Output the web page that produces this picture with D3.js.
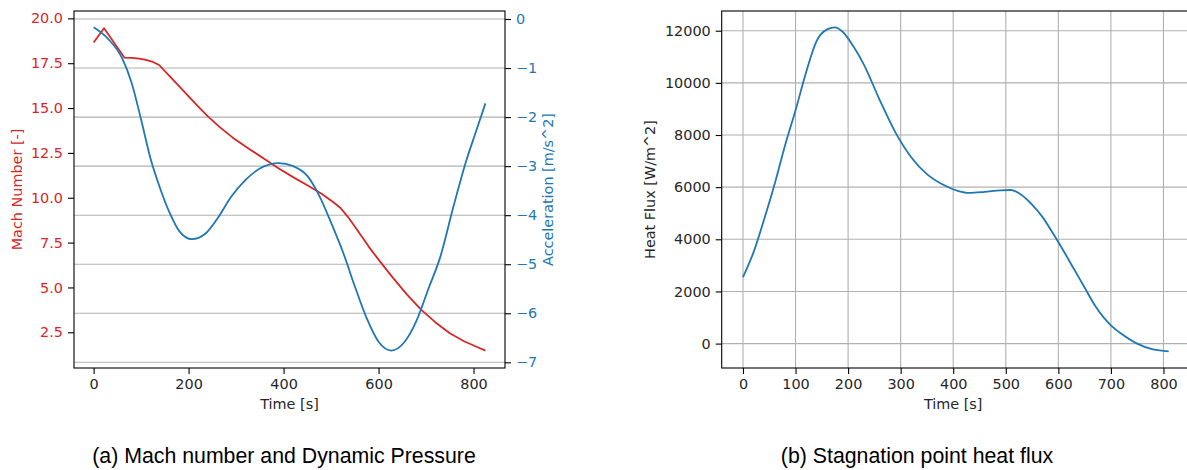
<!DOCTYPE html>
<html>
<head>
<meta charset="utf-8">
<script src="https://cdn.jsdelivr.net/npm/d3@7"></script>
<style>
  body { margin: 0; background: #fff; }
  svg { display: block; }
  text { font-family: "DejaVu Sans", sans-serif; }
</style>
</head>
<body>
<svg id="chart" width="1187" height="470"></svg>
<script>
// DATA
// (a) Mach number + acceleration vs time
const mach_time = [0, 22, 65, 80, 96, 110, 125, 138, 160, 181, 200, 220, 240, 265, 293, 330, 363, 390, 420, 450, 480, 505, 520, 535, 550, 565, 580, 600, 630, 660, 690, 720, 750, 780, 810, 825];
const mach_values = [18.65, 19.45, 17.81, 17.80, 17.75, 17.68, 17.57, 17.40, 16.78, 16.19, 15.65, 15.1, 14.55, 13.95, 13.35, 12.68, 12.1, 11.63, 11.15, 10.7, 10.22, 9.75, 9.43, 8.95, 8.4, 7.83, 7.25, 6.55, 5.55, 4.6, 3.75, 3.05, 2.45, 2.0, 1.65, 1.48];

const acc_time = [0, 30, 60, 80, 100, 120, 140, 160, 180, 207, 235, 260, 290, 320, 350, 390, 420, 450, 475, 500, 525, 550, 575, 600, 627, 655, 680, 705, 730, 757, 785, 805, 825];
const acc_values = [-0.17, -0.40, -0.80, -1.30, -2.05, -2.85, -3.45, -3.95, -4.32, -4.49, -4.38, -4.08, -3.62, -3.28, -3.05, -2.94, -3.00, -3.20, -3.60, -4.15, -4.75, -5.45, -6.10, -6.58, -6.76, -6.58, -6.15, -5.50, -4.85, -3.85, -2.88, -2.30, -1.72];

// (b) stagnation point heat flux vs time
const flux_time = [0, 20, 40, 60, 80, 100, 120, 140, 160, 175, 190, 210, 230, 260, 290, 320, 350, 380, 410, 430, 460, 490, 510, 530, 550, 570, 590, 610, 630, 650, 670, 700, 720, 750, 780, 810];
const flux_values = [2550, 3500, 4750, 6100, 7600, 8950, 10400, 11600, 12050, 12130, 11950, 11400, 10700, 9350, 8100, 7150, 6500, 6100, 5850, 5780, 5820, 5880, 5890, 5700, 5330, 4850, 4220, 3550, 2850, 2150, 1450, 700, 380, 0, -225, -295];

// tick labels
const mach_ticks = [2.5, 5.0, 7.5, 10.0, 12.5, 15.0, 17.5, 20.0];
const acc_ticks = [0, -1, -2, -3, -4, -5, -6, -7];
const time_ticks_a = [0, 200, 400, 600, 800];
const time_ticks_b = [0, 100, 200, 300, 400, 500, 600, 700, 800];
const flux_ticks = [0, 2000, 4000, 6000, 8000, 10000, 12000];

const captions = ["(a) Mach number and Dynamic Pressure", "(b) Stagnation point heat flux"];

const RED = "#d62728", BLUE = "#1f77b4", GRID = "#b0b0b0", TXT = "#262626";
const FS = 14.4;

const svg = d3.select("#chart");

function zip(xs, ys) { return xs.map((x, i) => ({t: x, v: ys[i]})); }

function styleAxis(g, color) {
  g.select(".domain").remove();
  g.selectAll(".tick line").attr("stroke", "#000").attr("stroke-width", 1.1);
  g.selectAll(".tick text").attr("fill", color).style("font-size", FS + "px")
    .style("font-family", "DejaVu Sans");
}

// ---------- panel (a) ----------
const A = {left: 74, right: 505, top: 11, bottom: 368};
const xa = d3.scaleLinear().domain([-41.25, 866.25]).range([A.left, A.right]);
const yMach = d3.scaleLinear().domain([0.51, 20.41]).range([A.bottom, A.top]);
const yAcc = d3.scaleLinear().domain([-7.116, 0.163]).range([A.bottom, A.top]);

let ga = svg.append("g");

// grid comes from the twin (acceleration) axis
ga.append("g").selectAll("line").data(acc_ticks).join("line")
  .attr("x1", A.left).attr("x2", A.right)
  .attr("y1", d => yAcc(d)).attr("y2", d => yAcc(d))
  .attr("stroke", GRID).attr("stroke-width", 1.1);

// mach has real corners (phase changes), so keep it piecewise linear
const line_a_mach = d3.line().x(d => xa(d.t)).y(d => yMach(d.v)).curve(d3.curveLinear);
const line_a_acc = d3.line().x(d => xa(d.t)).y(d => yAcc(d.v)).curve(d3.curveMonotoneX);

ga.append("path").datum(zip(mach_time, mach_values))
  .attr("d", line_a_mach).attr("fill", "none").attr("stroke", RED)
  .attr("stroke-width", 1.8).attr("stroke-linejoin", "round");
ga.append("path").datum(zip(acc_time, acc_values))
  .attr("d", line_a_acc).attr("fill", "none").attr("stroke", BLUE).attr("stroke-width", 1.8);

// frame
ga.append("rect").attr("x", A.left).attr("y", A.top)
  .attr("width", A.right - A.left).attr("height", A.bottom - A.top)
  .attr("fill", "none").attr("stroke", "#000").attr("stroke-width", 1.1);

ga.append("g").attr("transform", `translate(0,${A.bottom})`)
  .call(d3.axisBottom(xa).tickValues(time_ticks_a).tickSize(6).tickPadding(5).tickFormat(d3.format("d")))
  .call(g => styleAxis(g, TXT));
ga.append("g").attr("transform", `translate(${A.left},0)`)
  .call(d3.axisLeft(yMach).tickValues(mach_ticks).tickSize(6).tickPadding(5).tickFormat(d3.format(".1f")))
  .call(g => styleAxis(g, RED));
ga.append("g").attr("transform", `translate(${A.right},0)`)
  .call(d3.axisRight(yAcc).tickValues(acc_ticks).tickSize(6).tickPadding(5).tickFormat(d3.format("d")))
  .call(g => styleAxis(g, BLUE));

ga.append("text").attr("x", (A.left + A.right) / 2).attr("y", 408.5)
  .attr("text-anchor", "middle").attr("fill", TXT).style("font-size", FS + "px").text("Time [s]");
ga.append("text").attr("transform", `translate(22,${(A.top + A.bottom) / 2}) rotate(-90)`)
  .attr("text-anchor", "middle").attr("fill", RED).style("font-size", FS + "px").text("Mach Number [-]");
ga.append("text").attr("transform", `translate(552.5,${(A.top + A.bottom) / 2}) rotate(-90)`)
  .attr("text-anchor", "middle").attr("fill", BLUE).style("font-size", FS + "px").text("Acceleration [m/s^2]");

// ---------- panel (b) ----------
const B = {left: 721.7, right: 1190, top: 11, bottom: 368};
const xb = d3.scaleLinear().domain([-40.5, 850.5]).range([B.left, B.right]);
const yb = d3.scaleLinear().domain([-936, 12756]).range([B.bottom, B.top]);

let gb = svg.append("g");

gb.append("g").selectAll("line").data(time_ticks_b).join("line")
  .attr("x1", d => xb(d)).attr("x2", d => xb(d)).attr("y1", B.top).attr("y2", B.bottom)
  .attr("stroke", GRID).attr("stroke-width", 1.1);
gb.append("g").selectAll("line").data(flux_ticks).join("line")
  .attr("x1", B.left).attr("x2", B.right).attr("y1", d => yb(d)).attr("y2", d => yb(d))
  .attr("stroke", GRID).attr("stroke-width", 1.1);

const line_b = d3.line().x(d => xb(d.t)).y(d => yb(d.v)).curve(d3.curveMonotoneX);
gb.append("path").datum(zip(flux_time, flux_values))
  .attr("d", line_b).attr("fill", "none").attr("stroke", BLUE).attr("stroke-width", 1.8);

gb.append("rect").attr("x", B.left).attr("y", B.top)
  .attr("width", B.right - B.left).attr("height", B.bottom - B.top)
  .attr("fill", "none").attr("stroke", "#000").attr("stroke-width", 1.1);

gb.append("g").attr("transform", `translate(0,${B.bottom})`)
  .call(d3.axisBottom(xb).tickValues(time_ticks_b).tickSize(6).tickPadding(5).tickFormat(d3.format("d")))
  .call(g => styleAxis(g, TXT));
gb.append("g").attr("transform", `translate(${B.left},0)`)
  .call(d3.axisLeft(yb).tickValues(flux_ticks).tickSize(6).tickPadding(5).tickFormat(d3.format("d")))
  .call(g => styleAxis(g, TXT));

gb.append("text").attr("x", xb(400)).attr("y", 408.5)
  .attr("text-anchor", "middle").attr("fill", TXT).style("font-size", FS + "px").text("Time [s]");
gb.append("text").attr("transform", `translate(655,${(B.top + B.bottom) / 2}) rotate(-90)`)
  .attr("text-anchor", "middle").attr("fill", TXT).style("font-size", FS + "px").text("Heat Flux [W/m^2]");

// ---------- captions ----------
svg.selectAll("text.caption").data(captions).join("text")
  .attr("class", "caption")
  .attr("x", (d, i) => i === 0 ? 284 : 917)
  .attr("y", 463)
  .attr("text-anchor", "middle")
  .attr("fill", "#000")
  .style("font-family", "Liberation Sans, Arial, sans-serif")
  .style("font-size", "21.3px")
  .text(d => d);
</script>
</body>
</html>
